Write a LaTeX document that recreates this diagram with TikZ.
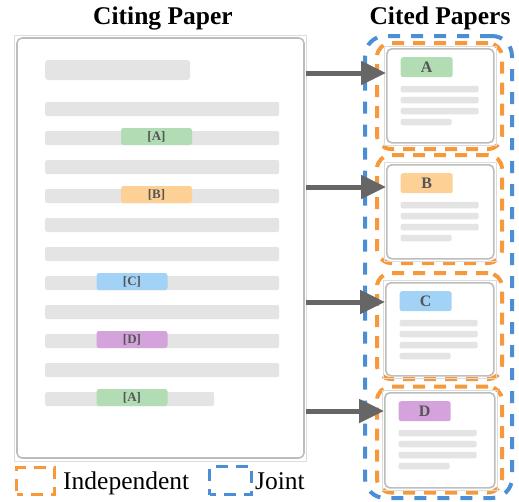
\documentclass[tikz,border=0pt]{standalone}
\usepackage{fontspec}
\setmainfont{Liberation Serif}
\usetikzlibrary{arrows.meta}
\definecolor{txtline}{HTML}{E4E4E4}
\definecolor{paperedge}{HTML}{BDBDBD}
\definecolor{paperout}{HTML}{DCDCDC}
\definecolor{hlgreen}{HTML}{B2DCB4}
\definecolor{hlorange}{HTML}{FDD195}
\definecolor{hlblue}{HTML}{A3D2F7}
\definecolor{hlpurple}{HTML}{D5A3DC}
\definecolor{dashorange}{HTML}{F7993A}
\definecolor{dashblue}{HTML}{4A8FD6}
\definecolor{arrowgray}{HTML}{666666}
\definecolor{labelgray}{HTML}{555555}
\tikzset{
  titletext/.style={font=\fontsize{25.5}{30}\selectfont\bfseries, inner sep=0, anchor=base},
  legendtext/.style={font=\fontsize{25.5}{30}\selectfont, inner sep=0, anchor=base west},
  tline/.style={fill=txtline, rounded corners=2pt, inner sep=0, minimum height=14pt, anchor=west},
  hl/.style={rounded corners=2.5pt, inner sep=0, minimum width=71pt, minimum height=17pt,
    font=\fontsize{13}{13}\selectfont\bfseries, text=labelgray},
  outerbox/.style={draw=paperout, line width=0.6pt, inner sep=0},
  innerbox/.style={draw=paperedge, line width=1.6pt, rounded corners=5pt, fill=white, inner sep=0},
  cardlabel/.style={rounded corners=2.5pt, inner sep=0, minimum width=52pt, minimum height=20pt,
    font=\fontsize{16}{16}\selectfont\bfseries, text=labelgray, anchor=north west},
  cline/.style={fill=txtline, rounded corners=2pt, inner sep=0, minimum height=6.5pt, anchor=west},
  indep/.style={draw=dashorange, line width=4pt, dash pattern=on 12pt off 9pt, rounded corners=14pt},
  joint/.style={draw=dashblue, line width=4pt, dash pattern=on 12pt off 11pt, rounded corners=20pt},
  arr/.style={draw=arrowgray, line width=5pt, -{Triangle[length=25pt,width=23pt]}},
}
\begin{document}
\begin{tikzpicture}[x=1pt,y=-1pt]
\useasboundingbox (0,0) rectangle (519,501);

% titles
\node[titletext] (t1) at (163,24) {Citing Paper};
\node[titletext] (t2) at (440,24) {Cited Papers};

% citing paper
\node[outerbox, minimum width=292pt, minimum height=426pt] (paper) at (160,248) {};
\node[innerbox, minimum width=287pt, minimum height=420pt] (paperin) at (160.5,248) {};
\node[fill=txtline, rounded corners=3pt, inner sep=0, minimum width=145pt, minimum height=20pt, anchor=west] (head) at (45,70) {};
\foreach \y [count=\i] in {109,138,167,196,225,254,283,312,341,370}
  \node[tline, minimum width=234pt] (l\i) at (45,\y) {};
\node[tline, minimum width=169pt] (l11) at (45,399) {};

\node[hl, fill=hlgreen] (hA) at (156.5,136.5) {[A]};
\node[hl, fill=hlorange] (hB) at (156.5,194.5) {[B]};
\node[hl, fill=hlblue] (hC) at (132,281.5) {[C]};
\node[hl, fill=hlpurple] (hD) at (132,339.5) {[D]};
\node[hl, fill=hlgreen] (hA2) at (132,397.5) {[A]};

% joint box
\node[joint, inner sep=0, minimum width=147pt, minimum height=462pt] (jointbox) at (438.5,267) {};

% independent boxes
\node[indep, inner sep=0, minimum width=125pt, minimum height=106pt] (iA) at (439.5,96) {};
\node[indep, inner sep=0, minimum width=125pt, minimum height=108pt] (iB) at (439.5,209) {};
\node[indep, inner sep=0, minimum width=125pt, minimum height=106pt] (iC) at (439.5,326) {};
\node[indep, inner sep=0, minimum width=125pt, minimum height=106pt] (iD) at (439.5,439.5) {};

% cards
\foreach \n/\x/\y/\w/\h/\c/\t in {A/386/48/107/94/hlgreen/A, B/386/164/107/94/hlorange/B, C/385/282/108/93/hlblue/C, D/384/392/110/95/hlpurple/D}{
  \node[outerbox, anchor=north west, minimum width=\w pt+5pt, minimum height=\h pt+5pt] (co\n) at (\x-2.5,\y-2.5) {};
  \node[innerbox, anchor=north west, minimum width=\w pt, minimum height=\h pt] (card\n) at (\x,\y) {};
  \node[cardlabel, fill=\c] (lab\n) at (\x+14.5,\y+9) {\t};
  \node[cline, minimum width=78pt] (c\n1) at (\x+14.5,\y+41) {};
  \node[cline, minimum width=78pt] (c\n2) at (\x+14.5,\y+52) {};
  \node[cline, minimum width=78pt] (c\n3) at (\x+14.5,\y+63) {};
  \node[cline, minimum width=51pt] (c\n4) at (\x+14.5,\y+74) {};
}

% arrows
\coordinate (tA) at (cardA.west |- 0,73);
\coordinate (tB) at (cardB.west |- 0,187);
\coordinate (tC) at (cardC.west |- 0,302);
\coordinate (tD) at (cardD.west |- 0,411);
\foreach \n in {A,B,C,D}
  \draw[arr] (paper.east |- t\n) -- (t\n);

% legend
\node[draw=dashorange, line width=3.2pt, dash pattern=on 12pt off 8pt, dash phase=6pt, inner sep=0, minimum width=38pt, minimum height=27pt, anchor=north west] (legI) at (15,466) {};
\node[legendtext] (legIt) at (63,489) {Independent};
\node[draw=dashblue, line width=3.2pt, dash pattern=on 12pt off 8pt, dash phase=6pt, inner sep=0, minimum width=42pt, minimum height=28pt, anchor=north west] (legJ) at (208,465) {};
\node[legendtext] (legJt) at (255,489) {Joint};
\end{tikzpicture}
\end{document}
